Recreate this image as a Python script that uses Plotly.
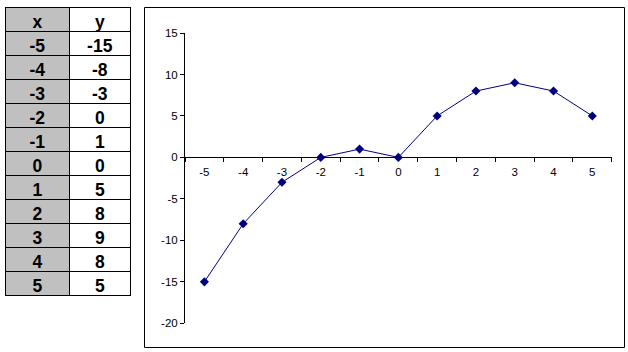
import plotly.graph_objects as go

x_vals = [-5, -4, -3, -2, -1, 0, 1, 2, 3, 4, 5]
y_vals = [-15, -8, -3, 0, 1, 0, 5, 8, 9, 8, 5]
y_ticks = [-20, -15, -10, -5, 0, 5, 10, 15]

W, H = 628, 352
x_labels = [str(v) for v in x_vals]

# plot area in pixels
px0, px1 = 185, 611.7
py_top, py_bot = 33, 323.3
ymin, ymax = -20, 15

ydom = [(H - py_bot) / H, (H - py_top) / H]
xdom = [px0 / W, px1 / W]
xaxis_pos = ydom[0] + (0 - ymin) / (ymax - ymin) * (ydom[1] - ydom[0])

table_font = dict(family="Liberation Sans", size=17.5, color="black", weight="bold")

fig = go.Figure()

# table
fig.add_trace(go.Table(
    domain=dict(x=[5 / W, 130 / W], y=[(H - 300) / H, (H - 7) / H]),
    columnwidth=[64, 60],
    header=dict(
        values=["x", "y"],
        fill_color=["#C0C0C0", "white"],
        line=dict(color="black", width=1),
        align="center",
        height=24,
        font=table_font,
    ),
    cells=dict(
        values=[[str(v) for v in x_vals], [str(v) for v in y_vals]],
        fill_color=[["#C0C0C0"] * len(x_vals), ["white"] * len(y_vals)],
        line=dict(color="black", width=1),
        align="center",
        height=24,
        font=table_font,
    ),
))

fig.add_trace(go.Scatter(
    x=x_labels, y=y_vals, mode="lines+markers",
    line=dict(color="#000080", width=1),
    marker=dict(symbol="diamond", size=7, color="#000080"),
    showlegend=False,
))

fig.update_layout(
    width=W, height=H,
    margin=dict(l=0, r=0, t=0, b=0, pad=0, autoexpand=False),
    paper_bgcolor="white", plot_bgcolor="white",
    font=dict(family="Liberation Sans", size=11.5, color="black"),
    xaxis=dict(
        domain=xdom, type="category", range=[-0.5, 10.5],
        anchor="free", position=xaxis_pos, automargin=False,
        showline=True, linecolor="black", linewidth=1,
        ticks="outside", tickson="boundaries", ticklen=4, tickcolor="black",
        showgrid=False, zeroline=False, ticklabelstandoff=4,
    ),
    yaxis=dict(
        domain=ydom, range=[ymin, ymax], automargin=False,
        tickvals=y_ticks, ticktext=[str(v) for v in y_ticks],
        showline=True, linecolor="black", linewidth=1,
        ticks="outside", ticklen=4, tickcolor="black",
        showgrid=False, zeroline=False,
    ),
    shapes=[dict(
        type="rect", xref="paper", yref="paper",
        x0=144.5 / W, x1=624.5 / W, y0=(H - 347.5) / H, y1=(H - 7.5) / H,
        line=dict(color="black", width=1), fillcolor="rgba(0,0,0,0)",
    )],
)

fig.write_html("out.html")
